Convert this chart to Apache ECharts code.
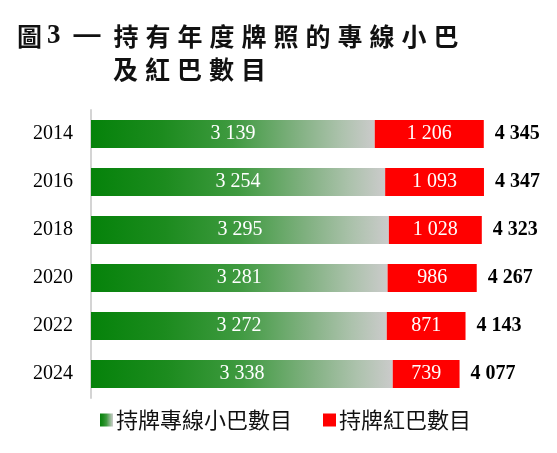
<!DOCTYPE html>
<html>
<head>
<meta charset="utf-8">
<script src="https://cdn.jsdelivr.net/npm/echarts@6/dist/echarts.min.js"></script>
<style>
html,body{margin:0;padding:0;background:#fff;}
#chart{width:557px;height:453px;}
</style>
</head>
<body>
<div id="chart"></div>
<script>
var years = ['2014', '2016', '2018', '2020', '2022', '2024'];
var minibus = [3139, 3254, 3295, 3281, 3272, 3338];
var redbus = [1206, 1093, 1028, 986, 871, 739];
var seriesNames = ['持牌專線小巴數目', '持牌紅巴數目'];
var titleLine1Prefix = '圖';
var titleNumber = '3';
var titleLine1 = '持有年度牌照的專線小巴';
var titleLine2 = '及紅巴數目';

var totals = minibus.map(function (v, i) { return v + redbus[i]; });
function fmt(v) { return String(v).replace(/\B(?=(\d{3})+(?!\d))/g, ' '); }
function spaced(s) { return s.split('').map(function (c) { return '{c|' + c + '}'; }).join(''); }

var cjk = '"Noto Sans CJK TC","Noto Sans CJK SC",sans-serif';
var serif = '"Liberation Serif","DejaVu Serif",serif';
var richTitle = {
  a: { fontFamily: cjk, fontSize: 25, fontWeight: 'bold', color: '#111', padding: [0, 5, 0, 0], lineHeight: 32 },
  n: { fontFamily: serif, fontSize: 27, fontWeight: 'bold', color: '#111', padding: [0, 13, 0, 0], lineHeight: 32 },
  d: { fontFamily: '"Liberation Sans",sans-serif', fontSize: 27, fontWeight: 'bold', color: '#111', padding: [0, 13, 0, 0], lineHeight: 32 },
  c: { fontFamily: cjk, fontSize: 25, fontWeight: 'bold', color: '#111', padding: [0, 7, 0, 0], lineHeight: 32 }
};

var greenGrad = new echarts.graphic.LinearGradient(0, 0, 1, 0, [
  { offset: 0, color: '#05820a' },
  { offset: 0.25, color: '#1c8b1e' },
  { offset: 0.5, color: '#3f9a40' },
  { offset: 0.72, color: '#7fb07f' },
  { offset: 0.88, color: '#acc2ac' },
  { offset: 1, color: '#cbcbcb' }
]);

var chart = echarts.init(document.getElementById('chart'), null, { renderer: 'canvas' });
chart.setOption({
  backgroundColor: '#fff',
  animation: false,
  title: [
    {
      left: 17, top: 20, padding: 0,
      text: '{a|' + titleLine1Prefix + '}{n|' + titleNumber + '}{d|—}' + spaced(titleLine1),
      textStyle: { rich: richTitle }
    },
    {
      left: 113, top: 53, padding: 0,
      text: spaced(titleLine2),
      textStyle: { rich: richTitle }
    }
  ],
  legend: {
    left: 100, top: 408, padding: 0,
    itemWidth: 13, itemHeight: 13, itemGap: 31,
    icon: 'rect',
    textStyle: { fontFamily: cjk, fontSize: 22, color: '#111', lineHeight: 24, padding: [0, 0, 0, -2] },
    data: seriesNames
  },
  grid: { left: 91, width: 452, top: 110, height: 288, containLabel: false },
  xAxis: { type: 'value', min: 0, max: 5000, show: false },
  yAxis: {
    type: 'category', data: years, inverse: true,
    axisLine: { show: true, lineStyle: { color: '#d4d4d4', width: 2 } },
    axisTick: { show: false },
    axisLabel: { fontFamily: serif, fontSize: 20, color: '#000', margin: 18 }
  },
  series: [
    {
      name: seriesNames[0], type: 'bar', stack: 'total', barWidth: 28,
      data: minibus,
      itemStyle: { color: greenGrad },
      label: { show: true, position: 'inside', fontFamily: serif, fontSize: 20, color: '#fff',
        formatter: function (p) { return fmt(p.value); } }
    },
    {
      name: seriesNames[1], type: 'bar', stack: 'total', barWidth: 28,
      data: redbus,
      itemStyle: { color: '#ff0000' },
      label: { show: true, position: 'inside', fontFamily: serif, fontSize: 20, color: '#fff',
        formatter: function (p) { return fmt(p.value); } },
      labelLayout: null
    },
    {
      name: 'total', type: 'bar', stack: 'total', barWidth: 28,
      data: totals.map(function () { return 0; }),
      itemStyle: { color: 'transparent' },
      silent: true,
      label: { show: true, position: 'right', distance: 11, fontFamily: serif, fontSize: 20, fontWeight: 'bold', color: '#000',
        formatter: function (p) { return fmt(totals[p.dataIndex]); } }
    }
  ]
});
</script>
</body>
</html>
